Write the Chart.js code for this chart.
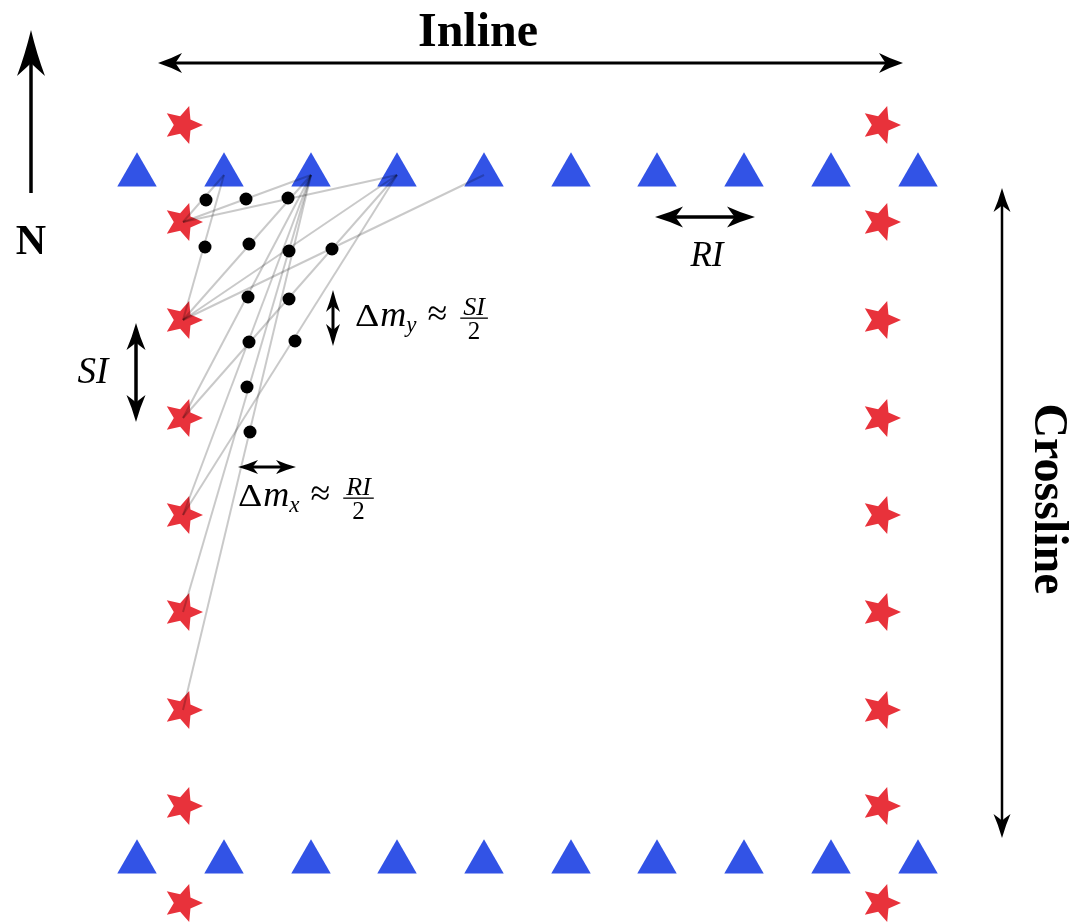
<!DOCTYPE html>
<html>
<head>
<meta charset="utf-8">
<title>Inline / Crossline layout</title>
<script src="https://cdn.jsdelivr.net/npm/chart.js@4.4.1/dist/chart.umd.min.js"></script>
<style>
  html, body { margin: 0; padding: 0; background: #fff; }
  #wrap { width: 1078px; height: 923px; }
</style>
</head>
<body>
<div id="wrap"><canvas id="layout" width="1078" height="923"></canvas></div>
<script>
// -----------------------------
// data (figure frame: x right, y down)
// -----------------------------
const sourceLineX = [183, 881];
const sourceY = [125, 222, 320, 418, 515, 612, 710, 806, 903];
const receiverX = [137, 224, 311, 397, 484, 571, 657, 744, 831, 918];
const receiverLineY = [175, 862];

// [source index on left line, receiver index on top line]
const rayPairs = [[1, 1], [1, 2], [1, 3], [2, 1], [2, 2], [2, 3], [2, 4], [3, 2], [3, 3], [4, 2], [4, 3], [5, 2], [6, 2]];

const midX = [206, 246, 288, 205, 249, 289, 332, 248, 289, 249, 295, 247, 250];
const midY = [200, 199, 198, 247, 244, 251, 249, 297, 299, 342, 341, 387, 432];

// -----------------------------
// annotations
// -----------------------------
const arrows = [
  { from: [158, 63], to: [903, 63], both: true, len: 24, wid: 20, lw: 3 },      // Inline
  { from: [31, 193], to: [31, 30], both: false, len: 46, wid: 28, lw: 3.5 },    // N
  { from: [1002, 188], to: [1002, 838], both: true, len: 24, wid: 17, lw: 2.5 }, // Crossline
  { from: [655, 217], to: [755, 217], both: true, len: 28, wid: 21, lw: 3.5 },  // RI
  { from: [136, 323], to: [136, 422], both: true, len: 27, wid: 19, lw: 3.5 },  // SI
  { from: [333, 290], to: [333, 346], both: true, len: 22, wid: 14, lw: 3 },    // dm_y
  { from: [238, 467], to: [296, 467], both: true, len: 20, wid: 14, lw: 3 }     // dm_x
];

const labels = [
  { text: "Inline", x: 478, y: 46, font: 'bold 48px "Liberation Serif"', rot: 0 },
  { text: "N", x: 31, y: 254, font: 'bold 42px "Liberation Serif"', rot: 0 },
  { text: "Crossline", x: 1035, y: 499, font: 'bold 48px "Liberation Serif"', rot: Math.PI / 2 },
  { text: "RI", x: 707, y: 266, font: 'italic 35px "Liberation Serif"', rot: 0 },
  { text: "SI", x: 93, y: 383, font: 'italic 37px "Liberation Serif"', rot: 0 }
];

const mathLabels = [
  { x: 355, y: 326, sub: "y", num: "SI" },
  { x: 238, y: 506, sub: "x", num: "RI" }
];

// -----------------------------
// star marker
// -----------------------------
function makeStar(R, color) {
  const c = document.createElement("canvas");
  const s = Math.ceil(R * 2 + 4);
  c.width = s; c.height = s;
  const g = c.getContext("2d");
  const r = R * 0.46;
  g.beginPath();
  for (let i = 0; i < 10; i++) {
    const a = i * Math.PI / 5;
    const rr = i % 2 === 0 ? R : r;
    const px = s / 2 + Math.cos(a) * rr;
    const py = s / 2 + Math.sin(a) * rr;
    if (i === 0) g.moveTo(px, py); else g.lineTo(px, py);
  }
  g.closePath();
  g.fillStyle = color;
  g.fill();
  return c;
}

const starImg = makeStar(20, "#e8323b");

// -----------------------------
// datasets
// -----------------------------
const sources = [];
sourceLineX.forEach(x => sourceY.forEach(y => sources.push({ x, y })));

const receivers = [];
receiverLineY.forEach(y => receiverX.forEach(x => receivers.push({ x, y })));

const mids = midX.map((x, i) => ({ x, y: midY[i] }));

const rayDatasets = rayPairs.map(p => ({
  data: [{ x: sourceLineX[0], y: sourceY[p[0]] }, { x: receiverX[p[1]], y: receiverLineY[0] }],
  showLine: true,
  borderColor: "rgba(0,0,0,0.21)",
  borderWidth: 2,
  pointRadius: 0,
  order: 1,
  clip: false
}));

// -----------------------------
// drawing helpers
// -----------------------------
function arrowHead(ctx, tx, ty, ux, uy, len, wid) {
  const px = -uy, py = ux;
  const bx = tx - ux * len, by = ty - uy * len;
  const nx = tx - ux * len * 0.72, ny = ty - uy * len * 0.72;
  ctx.beginPath();
  ctx.moveTo(tx, ty);
  ctx.quadraticCurveTo(tx - ux * len * 0.55 + px * wid * 0.22, ty - uy * len * 0.55 + py * wid * 0.22, bx + px * wid / 2, by + py * wid / 2);
  ctx.quadraticCurveTo(nx - ux * len * 0.08 + px * wid * 0.12, ny - uy * len * 0.08 + py * wid * 0.12, nx, ny);
  ctx.quadraticCurveTo(nx - ux * len * 0.08 - px * wid * 0.12, ny - uy * len * 0.08 - py * wid * 0.12, bx - px * wid / 2, by - py * wid / 2);
  ctx.quadraticCurveTo(tx - ux * len * 0.55 - px * wid * 0.22, ty - uy * len * 0.55 - py * wid * 0.22, tx, ty);
  ctx.closePath();
  ctx.fill();
}

function drawArrow(ctx, a, sx, sy) {
  const x1 = sx(a.from[0]), y1 = sy(a.from[1]);
  const x2 = sx(a.to[0]), y2 = sy(a.to[1]);
  const d = Math.hypot(x2 - x1, y2 - y1);
  const ux = (x2 - x1) / d, uy = (y2 - y1) / d;
  const cut = a.len * 0.7;
  ctx.beginPath();
  ctx.moveTo(a.both ? x1 + ux * cut : x1, a.both ? y1 + uy * cut : y1);
  ctx.lineTo(x2 - ux * cut, y2 - uy * cut);
  ctx.lineWidth = a.lw;
  ctx.stroke();
  arrowHead(ctx, x2, y2, ux, uy, a.len, a.wid);
  if (a.both) arrowHead(ctx, x1, y1, -ux, -uy, a.len, a.wid);
}

// Δm_s ≈ N/2, laid out left to right
function drawMath(ctx, m, sx, sy) {
  let x = sx(m.x);
  const y = sy(m.y);
  ctx.textAlign = "left";
  ctx.textBaseline = "alphabetic";

  ctx.save();
  ctx.translate(x, y);
  ctx.scale(1.18, 1);
  ctx.font = '32px "Liberation Serif"';
  ctx.fillText("\u0394", 0, 0);
  x += ctx.measureText("\u0394").width * 1.18 + 1;
  ctx.restore();

  ctx.font = 'italic 36px "Liberation Serif"';
  ctx.fillText("m", x, y);
  x += ctx.measureText("m").width;

  ctx.font = 'italic 23px "Liberation Serif"';
  ctx.fillText(m.sub, x, y + 6);
  x += ctx.measureText(m.sub).width + 11;

  ctx.font = '36px "Liberation Serif"';
  ctx.fillText("\u2248", x, y - 1);
  x += ctx.measureText("\u2248").width + 13;

  // fraction
  ctx.font = 'italic 26px "Liberation Serif"';
  const fw = ctx.measureText(m.num).width + 6;
  ctx.textAlign = "center";
  ctx.fillText(m.num, x + fw / 2, y - 11);
  ctx.font = '25px "Liberation Serif"';
  ctx.fillText("2", x + fw / 2, y + 13);
  ctx.fillRect(x, y - 8.5, fw, 1.3);
}

const annotate = {
  id: "annotate",
  afterDatasetsDraw(chart) {
    const ctx = chart.ctx;
    const sx = v => chart.scales.x.getPixelForValue(v);
    const sy = v => chart.scales.y.getPixelForValue(v);
    ctx.save();
    ctx.fillStyle = "#000";
    ctx.strokeStyle = "#000";
    arrows.forEach(a => drawArrow(ctx, a, sx, sy));
    labels.forEach(l => {
      ctx.save();
      ctx.translate(sx(l.x), sy(l.y));
      ctx.rotate(l.rot);
      ctx.font = l.font;
      ctx.textAlign = "center";
      ctx.textBaseline = "alphabetic";
      ctx.fillText(l.text, 0, 0);
      ctx.restore();
    });
    mathLabels.forEach(m => drawMath(ctx, m, sx, sy));
    ctx.restore();
  }
};

// -----------------------------
// chart
// -----------------------------
new Chart(document.getElementById("layout"), {
  type: "scatter",
  data: {
    datasets: [
      {
        label: "midpoints",
        data: mids,
        pointRadius: 6.5,
        pointBackgroundColor: "#000",
        pointBorderWidth: 0,
        order: 0,
        clip: false
      },
      ...rayDatasets,
      {
        label: "sources",
        data: sources,
        pointStyle: starImg,
        order: 2,
        clip: false
      },
      {
        label: "receivers",
        data: receivers,
        pointStyle: "triangle",
        pointRadius: 22.8,
        pointBackgroundColor: "#3253e6",
        pointBorderWidth: 0,
        order: 3,
        clip: false
      }
    ]
  },
  options: {
    responsive: false,
    animation: false,
    layout: { padding: 0, autoPadding: false },
    plugins: { legend: { display: false }, tooltip: { enabled: false } },
    scales: {
      x: { type: "linear", min: 0, max: 1078, display: false },
      y: { type: "linear", min: 0, max: 923, reverse: true, display: false }
    }
  },
  plugins: [annotate]
});
</script>
</body>
</html>
